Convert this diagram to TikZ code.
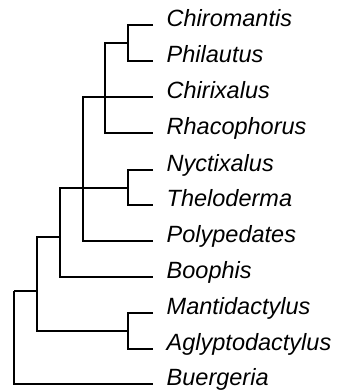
\documentclass[tikz,border=0pt]{standalone}
\usepackage{fontspec}
\setmainfont{Liberation Sans}
\usetikzlibrary{positioning}

\tikzset{
  branch/.style={line width=2.5pt, line join=miter},
  taxon/.style={anchor=base west, inner sep=0pt, xshift=13.5pt, yshift=-1pt,
    font=\itshape\fontsize{23.5}{28}\selectfont}
}

\begin{document}
\begin{tikzpicture}[x=1pt, y=-1pt]

\useasboundingbox (0,0) rectangle (338,391);

% Tips
\coordinate (t1)  at (153,25);
\coordinate (t2)  at (153,61);
\coordinate (t3)  at (153,97);
\coordinate (t4)  at (153,133);
\coordinate (t5)  at (153,170);
\coordinate (t6)  at (153,205);
\coordinate (t7)  at (153,241);
\coordinate (t8)  at (153,277);
\coordinate (t9)  at (153,313);
\coordinate (t10) at (153,349);
\coordinate (t11) at (153,384);

% Internal nodes
\coordinate (nA) at (128,43);
\coordinate (nB) at (105,97);
\coordinate (nC) at (128,188);
\coordinate (nD) at (83,188);
\coordinate (nE) at (60,237);
\coordinate (nF) at (128,331);
\coordinate (nG) at (37,291);
\coordinate (nH) at (14,291);

% Branches
\draw[branch] (t1) -| (nA) |- (t2);
\draw[branch] (nB) |- (nA);
\draw[branch] (nB) -- (t3);
\draw[branch] (nB) |- (t4);
\draw[branch] (t5) -| (nC) |- (t6);
\draw[branch] (nD) |- (nB);
\draw[branch] (nD) -- (nC);
\draw[branch] (nD) |- (t7);
\draw[branch] (nE) |- (nD);
\draw[branch] (nE) |- (t8);
\draw[branch] (t9) -| (nF) |- (t10);
\draw[branch] (nG) |- (nE);
\draw[branch] (nG) |- (nF);
\draw[branch] (nH) -- (nG);
\draw[branch] (nH) |- (t11);

% Taxon labels
\node[taxon] (chiromantis)     at (t1)  {Chiromantis};
\node[taxon] (philautus)       at (t2)  {Philautus};
\node[taxon] (chirixalus)      at (t3)  {Chirixalus};
\node[taxon] (rhacophorus)     at (t4)  {Rhacophorus};
\node[taxon] (nyctixalus)      at (t5)  {Nyctixalus};
\node[taxon] (theloderma)      at (t6)  {Theloderma};
\node[taxon] (polypedates)     at (t7)  {Polypedates};
\node[taxon] (boophis)         at (t8)  {Boophis};
\node[taxon] (mantidactylus)   at (t9)  {Mantidactylus};
\node[taxon] (aglyptodactylus) at (t10) {Aglyptodactylus};
\node[taxon] (buergeria)       at (t11) {Buergeria};

\end{tikzpicture}
\end{document}
